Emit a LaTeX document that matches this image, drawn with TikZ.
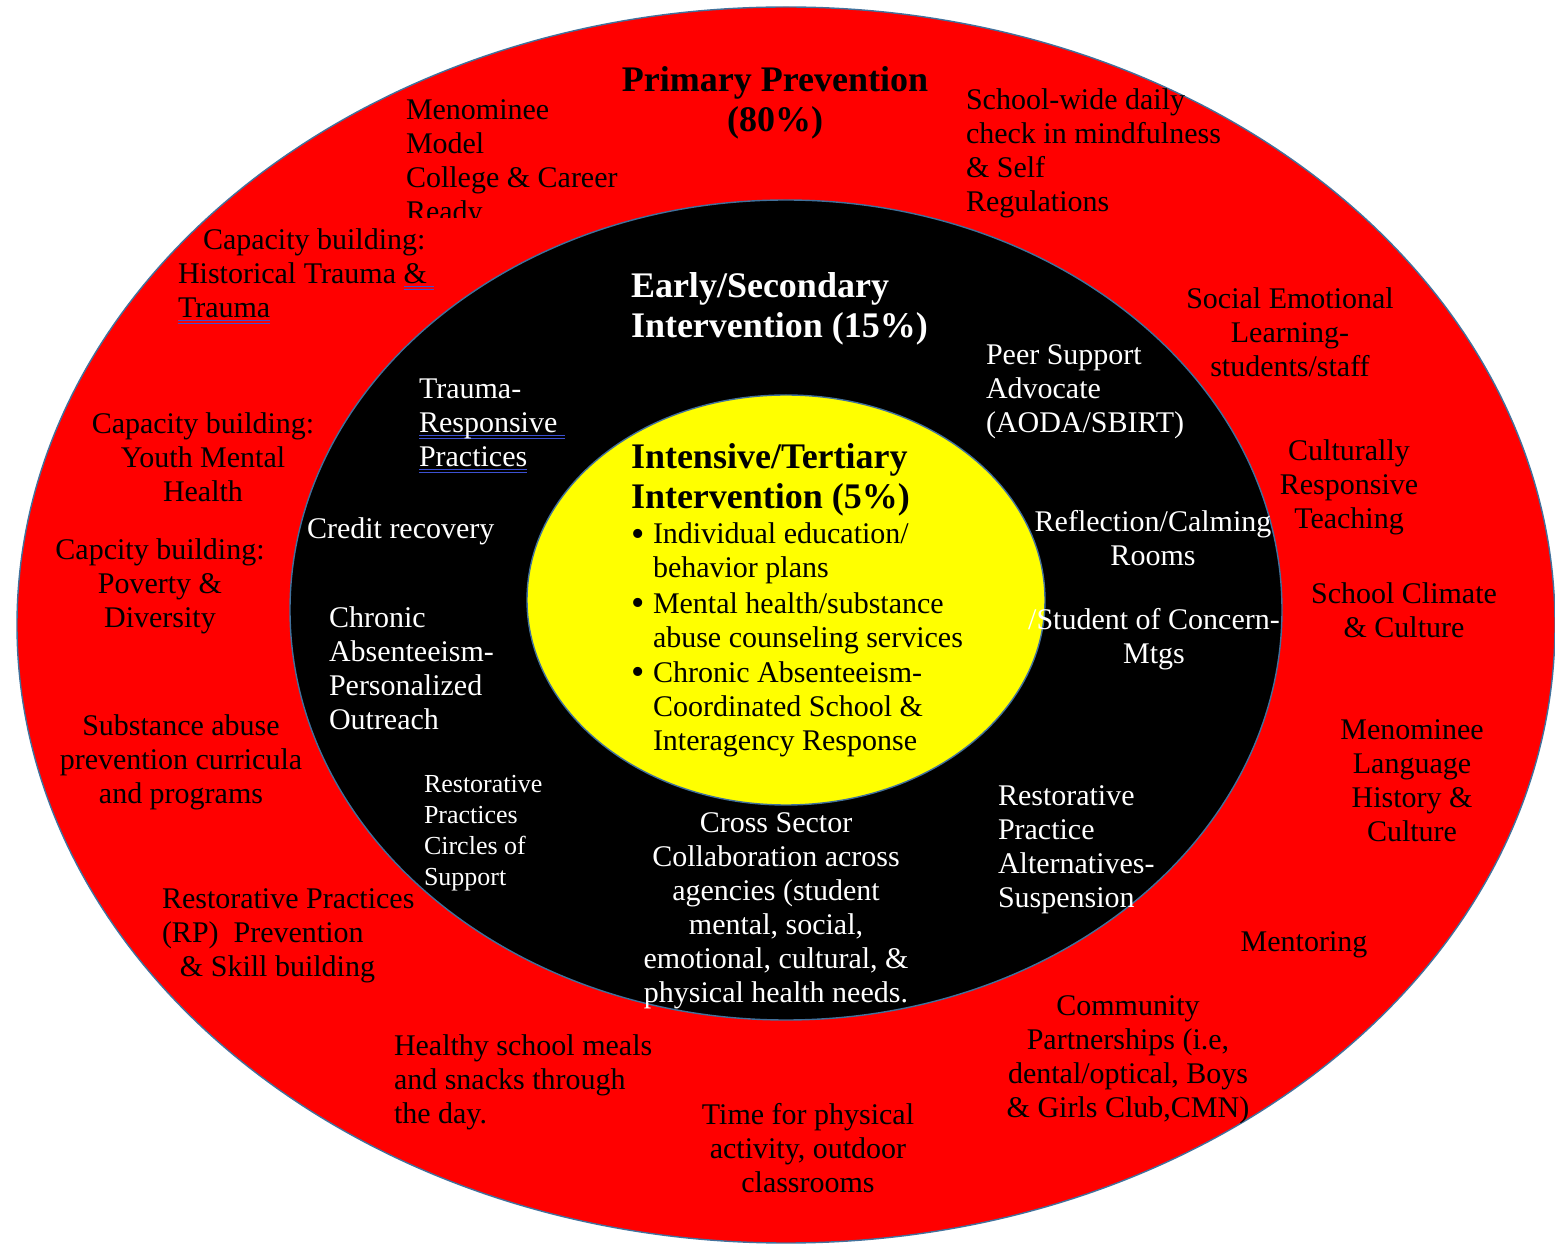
\documentclass[tikz,border=0pt]{standalone}
\usepackage{fontspec}
\setmainfont{Liberation Serif}
\usetikzlibrary{shapes.geometric}
\definecolor{ringred}{RGB}{255,0,0}
\definecolor{coreyellow}{RGB}{255,255,0}
\definecolor{rimblue}{RGB}{65,113,156}
\definecolor{ulblue}{RGB}{60,80,210}
\newcommand{\dblunder}[1]{\setbox0\hbox{#1}\rlap{\color{ulblue}\rule[-1.6pt]{\wd0}{0.6pt}}\rlap{\color{ulblue}\rule[-3.0pt]{\wd0}{0.6pt}}\box0}
\newcommand{\bigbul}{\llap{\smash{\raisebox{-1.4pt}{\fontsize{19}{17}\selectfont\textbullet}}\hspace{4pt}}}
\begin{document}
\begin{tikzpicture}[x=0.5pt,y=-0.5pt,
  every node/.style={inner sep=0pt,outer sep=0pt},
  ring/.style={ellipse,draw=rimblue,line width=0.7pt},
  txt/.style={font=\fontsize{15}{17}\selectfont},
  small/.style={font=\fontsize{13}{15.5}\selectfont},
  head/.style={font=\bfseries\fontsize{18}{20}\selectfont},
  ctr/.style={align=center,anchor=center},
  lft/.style={align=left,anchor=west},
  onblack/.style={text=white}]
\useasboundingbox (0,0) rectangle (1555,1245);
\fill[white] (0,0) rectangle (1555,1245);
% rings
\node[ring,fill=ringred,minimum width=769pt,minimum height=618pt] (outer) at (786,625) {};
\node[ring,fill=black,minimum width=496pt,minimum height=410pt] (mid) at (786,610) {};
\node[ring,fill=coreyellow,minimum width=259pt,minimum height=205pt] (core) at (786,600) {};

% ---------- outer ring (primary) ----------
\node[head,ctr] (primary) at (775,103) {Primary Prevention\\(80\%)};
\begin{scope}
\clip (380,60) rectangle (650,218);
\node[txt,lft] (model) at (406,164) {Menominee\\Model\\College \& Career\\Ready};
\end{scope}
\node[txt,lft] (checkin) at (966,153) {School-wide daily\\check in mindfulness\\\& Self\\Regulations};
\node[txt,anchor=base west] (hist1) at (203,250) {Capacity building:};
\node[txt,anchor=base west] (hist2) at (178,284) {Historical Trauma \dblunder{\&\ }};
\node[txt,anchor=base west] (hist3) at (178,318) {\dblunder{Trauma}};
\node[txt,ctr] (youth) at (203,457) {Capacity building:\\Youth Mental\\Health};
\node[txt,ctr] (poverty) at (160,586) {Capcity building:\\Poverty \&\\Diversity};
\node[txt,ctr] (substance) at (181,762) {Substance abuse\\prevention curricula\\and programs};
\node[txt,lft] (rpprev) at (162,936) {Restorative Practices\\(RP)\ \ Prevention\\\hspace*{9pt}\& Skill building};
\node[txt,lft] (meals) at (394,1082) {Healthy school meals\\and snacks through\\the day.};
\node[txt,ctr] (physical) at (808,1148) {Time for physical\\activity, outdoor\\classrooms};
\node[txt,ctr] (community) at (1128,1060) {Community\\Partnerships (i.e,\\dental/optical, Boys\\\& Girls Club,CMN)};
\node[txt,ctr] (mentoring) at (1304,945) {Mentoring};
\node[txt,ctr] (language) at (1412,781) {Menominee\\Language\\History \&\\Culture};
\node[txt,ctr] (climate) at (1404,610) {School Climate\\\& Culture};
\node[txt,ctr] (culturally) at (1349,487) {Culturally\\Responsive\\Teaching};
\node[txt,ctr] (sel) at (1290,332) {Social Emotional\\Learning-\\students/staff};

% ---------- middle ring (secondary) ----------
\node[head,lft,onblack] (secondary) at (631,309) {Early/Secondary\\Intervention (15\%)};
\node[txt,lft,onblack] (peer) at (986,392) {Peer Support\\Advocate\\(AODA/SBIRT)};
\node[txt,lft,onblack] (traumaresp) at (419,426) {Trauma-\\\dblunder{Responsive\ }\\\dblunder{Practices}};
\node[txt,lft,onblack] (credit) at (307,531) {Credit recovery};
\node[txt,lft,onblack] (outreach) at (329,668) {Chronic\\Absenteeism-\\Personalized\\Outreach};
\node[txt,ctr,onblack] (calming) at (1153,538) {Reflection/Calming\\Rooms};
\node[txt,ctr,onblack] (concern) at (1154,639) {/Student of Concern-\\Mtgs};
\node[small,lft,onblack] (circles) at (424,833) {Restorative\\Practices\\Circles of\\Support};
\node[txt,ctr,onblack] (cross) at (776,911) {Cross Sector\\Collaboration across\\agencies (student\\mental, social,\\emotional, cultural, \&\\physical health needs.};
\node[txt,lft,onblack] (alternatives) at (998,850) {Restorative\\Practice\\Alternatives-\\Suspension};

% ---------- core (tertiary) ----------
\node[head,lft] (tertiary) at (631,480) {Intensive/Tertiary\\Intervention (5\%)};
\node[txt,lft] (item1) at (653,553) {\bigbul Individual education/\\behavior plans};
\node[txt,lft] (item2) at (653,623) {\bigbul Mental health/substance\\abuse counseling services};
\node[txt,lft] (item3) at (653,709) {\bigbul Chronic Absenteeism-\\Coordinated School \&\\Interagency Response};
\end{tikzpicture}
\end{document}
